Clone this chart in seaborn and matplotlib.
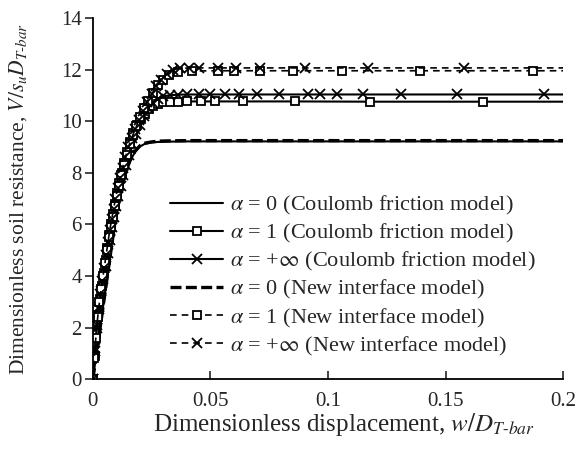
import matplotlib
matplotlib.use("Agg")
import matplotlib.pyplot as plt
from matplotlib.lines import Line2D
import seaborn as sns

# ---------------- data ----------------
cf0_x = [0, 0.002, 0.004, 0.006, 0.008, 0.010, 0.012, 0.014, 0.016, 0.018, 0.020,
         0.022, 0.025, 0.028, 0.032, 0.040, 0.060, 0.100, 0.150, 0.200]
cf0_y = [0, 1.3, 2.6, 3.9, 5.2, 6.5, 7.4, 8.05, 8.5, 8.82, 9.02,
         9.12, 9.18, 9.2, 9.21, 9.22, 9.22, 9.22, 9.22, 9.22]

cf1_x = [0, 0.0007, 0.0014, 0.0022, 0.003, 0.0038, 0.0046, 0.0054, 0.0062, 0.007,
         0.0078, 0.0086, 0.0094, 0.0103, 0.0112, 0.0122, 0.0133, 0.0145, 0.0158,
         0.0172, 0.0187, 0.0203, 0.022, 0.0238, 0.0257, 0.0277, 0.030, 0.033,
         0.036, 0.040, 0.046, 0.052, 0.064, 0.086, 0.118, 0.166, 0.200]
cf1_y = [0, 0.9, 1.8, 2.5, 3.1, 3.6, 4.1, 4.6, 5.1, 5.6,
         6.0, 6.4, 6.8, 7.2, 7.6, 8.0, 8.4, 8.8, 9.2,
         9.55, 9.85, 10.1, 10.3, 10.48, 10.6, 10.68, 10.73, 10.75,
         10.76, 10.77, 10.77, 10.77, 10.77, 10.77, 10.76, 10.76, 10.76]

cfi_x = [0, 0.0009, 0.0018, 0.0027, 0.0036, 0.0045, 0.0054, 0.0063, 0.0072, 0.0081,
         0.009, 0.0099, 0.0108, 0.0118, 0.0129, 0.0141, 0.0154, 0.0168, 0.0183,
         0.0199, 0.0216, 0.0234, 0.0254, 0.0275, 0.030, 0.033, 0.036, 0.040,
         0.045, 0.050, 0.056, 0.062, 0.070, 0.079, 0.0915, 0.0966, 0.104, 0.115,
         0.131, 0.155, 0.192, 0.200]
cfi_y = [0, 1.2, 2.1, 2.8, 3.4, 3.9, 4.4, 4.9, 5.4, 5.9,
         6.3, 6.7, 7.1, 7.5, 7.9, 8.3, 8.7, 9.1, 9.5,
         9.85, 10.2, 10.5, 10.72, 10.88, 10.97, 11.01, 11.03, 11.04,
         11.04, 11.04, 11.04, 11.04, 11.04, 11.04, 11.04, 11.04, 11.04, 11.04,
         11.04, 11.04, 11.04, 11.04]

ni0_x = [0, 0.002, 0.004, 0.006, 0.008, 0.010, 0.012, 0.014, 0.016, 0.018, 0.020,
         0.022, 0.025, 0.028, 0.032, 0.040, 0.060, 0.100, 0.150, 0.200]
ni0_y = [0, 1.3, 2.6, 3.9, 5.2, 6.5, 7.4, 8.05, 8.52, 8.85, 9.05,
         9.15, 9.2, 9.23, 9.24, 9.25, 9.25, 9.25, 9.25, 9.25]

ni1_x = [0, 0.0006, 0.0012, 0.002, 0.0028, 0.0036, 0.0044, 0.0052, 0.006, 0.0068,
         0.0076, 0.0084, 0.0092, 0.0101, 0.011, 0.012, 0.0131, 0.0143, 0.0156,
         0.017, 0.0185, 0.0201, 0.0218, 0.0236, 0.0256, 0.0278, 0.030, 0.0325,
         0.036, 0.042, 0.053, 0.060, 0.071, 0.085, 0.106, 0.139, 0.187, 0.200]
ni1_y = [0, 0.8, 1.6, 2.4, 3.0, 3.5, 4.0, 4.5, 5.0, 5.5,
         5.9, 6.3, 6.7, 7.1, 7.5, 7.9, 8.3, 8.7, 9.1,
         9.45, 9.8, 10.15, 10.5, 10.8, 11.1, 11.4, 11.6, 11.8,
         11.9, 11.95, 11.96, 11.96, 11.96, 11.96, 11.96, 11.96, 11.96, 11.96]

nii_x = [0, 0.0008, 0.0016, 0.0024, 0.0032, 0.0040, 0.0048, 0.0056, 0.0064, 0.0072,
         0.0080, 0.0088, 0.0096, 0.0105, 0.0115, 0.0126, 0.0138, 0.0151, 0.0165,
         0.018, 0.0196, 0.0213, 0.0231, 0.025, 0.027, 0.029, 0.0315, 0.034,
         0.037, 0.041, 0.045, 0.053, 0.061, 0.071, 0.090, 0.117, 0.158, 0.200]
nii_y = [0, 1.1, 2.0, 2.7, 3.3, 3.8, 4.3, 4.8, 5.3, 5.8,
         6.2, 6.6, 7.0, 7.4, 7.8, 8.2, 8.6, 9.0, 9.35,
         9.7, 10.05, 10.4, 10.75, 11.05, 11.35, 11.6, 11.85, 12.0,
         12.05, 12.07, 12.07, 12.07, 12.07, 12.07, 12.07, 12.07, 12.07, 12.07]

labels = [
    r"$\alpha$ = 0 (Coulomb friction model)",
    r"$\alpha$ = 1 (Coulomb friction model)",
    r"$\alpha$ = +$\infty$ (Coulomb friction model)",
    r"$\alpha$ = 0 (New interface model)",
    r"$\alpha$ = 1 (New interface model)",
    r"$\alpha$ = +$\infty$ (New interface model)",
]
x_ticks = [0, 0.05, 0.1, 0.15, 0.2]
x_tick_labels = ["0", "0.05", "0.1", "0.15", "0.2"]
y_ticks = [0, 2, 4, 6, 8, 10, 12, 14]

# ---------------- style ----------------
sns.set_style("ticks")
plt.rcParams["font.family"] = ["Liberation Serif", "DejaVu Serif"]
plt.rcParams["mathtext.fontset"] = "stix"

fig = plt.figure(figsize=(5.77, 4.54), dpi=100)
ax = fig.add_axes([0.161, 0.165, 0.815, 0.795])

SQ = 5.5
XS = 6.5
series = [
    (cf0_x, cf0_y, "-", None, 1.5),
    (cf1_x, cf1_y, "-", "s", 1.5),
    (cfi_x, cfi_y, "-", "x", 1.5),
    (ni0_x, ni0_y, (0, (3.3, 1.3)), None, 2.4),
    (ni1_x, ni1_y, (0, (4.0, 3.0)), "s", 1.2),
    (nii_x, nii_y, (0, (4.0, 3.0)), "x", 1.2),
]

handles = []
for (xs, ys, ls, mk, lw), lab in zip(series, labels):
    sns.lineplot(x=xs, y=ys, ax=ax, color="black", linestyle=ls, linewidth=lw,
                 estimator=None, sort=False, legend=False)
    if mk is not None:
        sns.lineplot(x=xs[:-1], y=ys[:-1], ax=ax, color="black", linestyle="none",
                     marker=mk, markersize=SQ if mk == "s" else XS,
                     markerfacecolor="white" if mk == "s" else "black",
                     markeredgecolor="black", markeredgewidth=1.3,
                     estimator=None, sort=False, legend=False)
    h = Line2D([], [], color="black", linestyle=ls, linewidth=lw,
               marker=mk if mk else "None",
               markersize=SQ if mk == "s" else XS,
               markerfacecolor="white" if mk == "s" else "black",
               markeredgecolor="black", markeredgewidth=1.3)
    handles.append(h)

ax.set_xlim(0, 0.2)
ax.set_ylim(0, 14)
ax.set_xticks(x_ticks)
ax.set_xticklabels(x_tick_labels)
ax.set_yticks(y_ticks)
ax.tick_params(axis="x", direction="in", length=6, width=1.2, labelsize=15, pad=9)
ax.tick_params(axis="y", direction="out", length=6, width=1.2, labelsize=15, pad=2)
for s in ["top", "right"]:
    ax.spines[s].set_visible(False)
for s in ["left", "bottom"]:
    ax.spines[s].set_linewidth(1.3)
    ax.spines[s].set_color("black")

ax.set_xlabel(r"Dimensionless displacement, $w/D_{T\text{-}bar}$", fontsize=18)
ax.set_ylabel(r"Dimensionless soil resistance, $V/s_uD_{T\text{-}bar}$", fontsize=15.5)
ax.xaxis.set_label_coords((344 - 93) / 470.0, (378 - 423) / 360.0)
ax.xaxis.label.set_verticalalignment("center")
ax.yaxis.set_label_coords((18 - 93) / 470.0, 0.5)
ax.yaxis.label.set_verticalalignment("center")

fig.legend(handles=handles, labels=labels, loc="upper left",
           bbox_to_anchor=(170 / 577, 1 - 194 / 454), bbox_transform=fig.transFigure,
           frameon=False, fontsize=16, handlelength=2.4, handletextpad=0.3,
           labelspacing=0.23, borderpad=0, borderaxespad=0)

fig.savefig("out.png", dpi=100)
